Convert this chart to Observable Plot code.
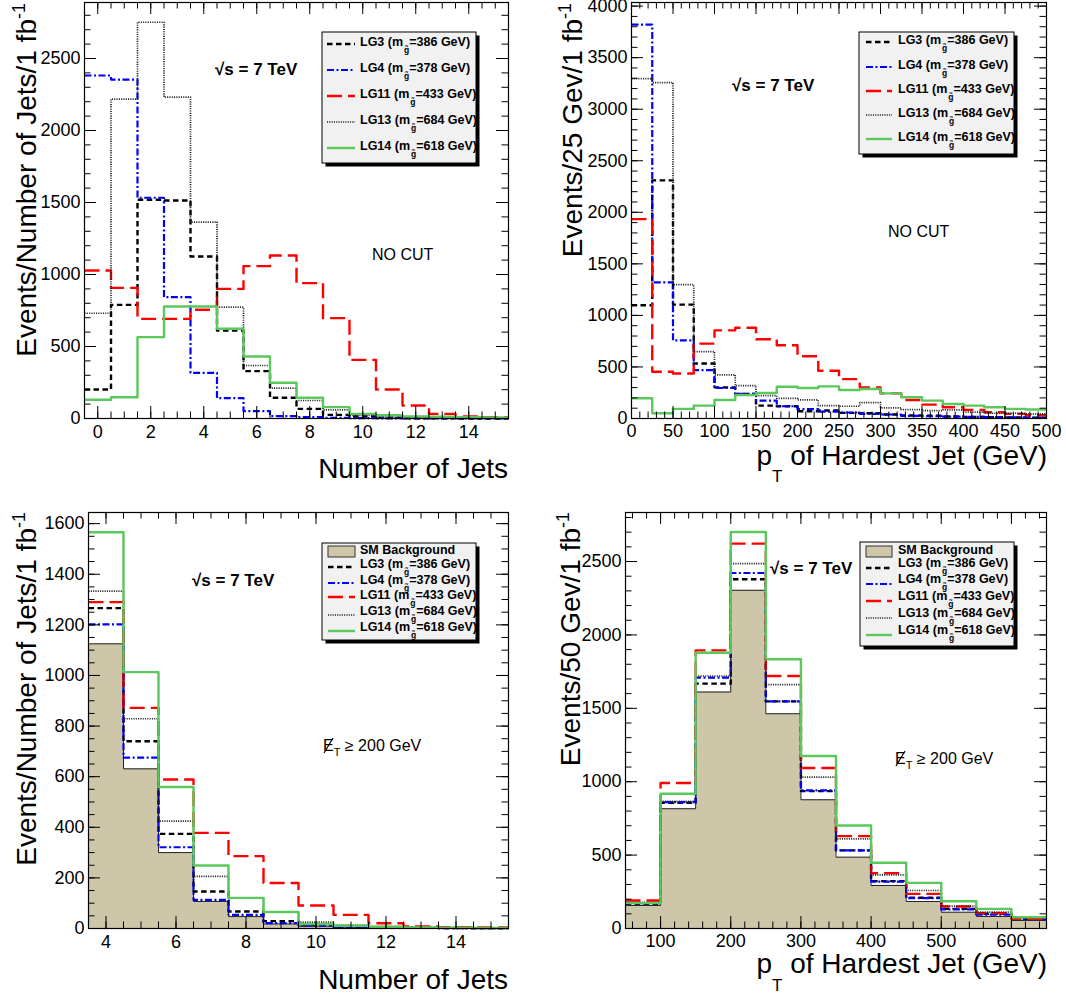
<!DOCTYPE html>
<html>
<head>
<meta charset="utf-8">
<script src="https://cdn.jsdelivr.net/npm/d3@7"></script>
<script src="https://cdn.jsdelivr.net/npm/@observablehq/plot@0.6"></script>
<style>
  body { margin: 0; background: #fff; }
  #root { position: relative; width: 1066px; height: 997px; overflow: hidden; background: #fff; }
  #root svg { position: absolute; overflow: visible; }
  #overlay { pointer-events: none; }
  #overlay text { white-space: pre; }
</style>
</head>
<body>
<div id="root"></div>
<script>
// ---------------- DATA ----------------
const seriesNames = ["LG3", "LG4", "LG11", "LG13", "LG14"];
const gluinoMasses = [386, 378, 433, 684, 618];

// Panel A: number of jets, no cut (bin centres 0..15)
const nJetsNoCut = [0, 1, 2, 3, 4, 5, 6, 7, 8, 9, 10, 11, 12, 13, 14, 15];
const njNoCut_LG3  = [201, 789, 1519, 1514, 1125, 611, 329, 144, 67, 25, 14, 5, 2, 1, 0, 0];
const njNoCut_LG4  = [2382, 2354, 1533, 843, 317, 141, 51, 16, 9, 4, 2, 1, 0, 0, 0, 0];
const njNoCut_LG11 = [1028, 907, 692, 692, 755, 900, 1058, 1132, 940, 697, 407, 201, 90, 32, 14, 9];
const njNoCut_LG13 = [731, 2218, 2752, 2232, 1364, 773, 368, 211, 125, 60, 21, 10, 8, 6, 5, 3];
const njNoCut_LG14 = [130, 148, 565, 778, 778, 623, 431, 248, 144, 79, 32, 23, 14, 12, 9, 7];

// Panel B: pT of hardest jet, no cut (bin low edges, 25 GeV bins)
const ptNoCut = [0, 25, 50, 75, 100, 125, 150, 175, 200, 225, 250, 275, 300, 325, 350, 375, 400, 425, 450, 475];
const ptNoCut_LG3  = [1099, 2310, 1105, 533, 302, 238, 125, 119, 71, 77, 55, 51, 39, 29, 26, 19, 16, 13, 10, 8];
const ptNoCut_LG4  = [3820, 1320, 758, 469, 296, 238, 173, 119, 90, 67, 58, 45, 39, 26, 22, 19, 16, 13, 10, 8];
const ptNoCut_LG11 = [1934, 453, 437, 726, 855, 880, 768, 710, 604, 463, 382, 302, 244, 180, 135, 109, 84, 61, 45, 32];
const ptNoCut_LG13 = [3297, 3258, 1298, 649, 424, 318, 222, 196, 180, 125, 119, 154, 103, 87, 77, 84, 61, 51, 51, 45];
const ptNoCut_LG14 = [196, 51, 93, 125, 180, 228, 247, 308, 296, 312, 276, 286, 244, 206, 173, 141, 125, 109, 93, 87];

// Panel C: number of jets, MET >= 200 GeV (bin centres 4..15)
const nJetsMet = [4, 5, 6, 7, 8, 9, 10, 11, 12, 13, 14, 15];
const njMet_SM   = [1125, 631, 300, 107, 47, 18, 9, 5, 3, 2, 1, 1];
const njMet_LG3  = [1266, 740, 374, 146, 67, 29, 14, 8, 5, 3, 2, 1];
const njMet_LG4  = [1202, 675, 321, 113, 54, 21, 11, 7, 4, 2, 1, 1];
const njMet_LG11 = [1290, 872, 589, 378, 286, 180, 91, 54, 21, 8, 5, 4];
const njMet_LG13 = [1333, 829, 424, 206, 121, 65, 25, 13, 8, 5, 3, 2];
const njMet_LG14 = [1566, 1013, 559, 249, 121, 65, 18, 11, 7, 4, 3, 2];

// Panel D: pT of hardest jet, MET >= 200 GeV (bin low edges, 50 GeV bins)
const ptMet = [50, 100, 150, 200, 250, 300, 350, 400, 450, 500, 550, 600];
const ptMet_SM   = [157, 816, 1611, 2304, 1463, 877, 486, 293, 184, 111, 82, 55];
const ptMet_LG3  = [168, 857, 1668, 2379, 1547, 936, 532, 323, 209, 134, 100, 66];
const ptMet_LG4  = [173, 861, 1709, 2422, 1547, 941, 532, 320, 207, 130, 95, 64];
const ptMet_LG11 = [191, 991, 1895, 2622, 1720, 1093, 629, 377, 236, 150, 105, 66];
const ptMet_LG13 = [179, 866, 1720, 2486, 1661, 1031, 611, 366, 259, 152, 111, 73];
const ptMet_LG14 = [173, 918, 1879, 2701, 1834, 1175, 702, 448, 311, 186, 134, 77];

// Tick labels
const ticksNJetsA = [0, 2, 4, 6, 8, 10, 12, 14];
const ticksNJetsC = [4, 6, 8, 10, 12, 14];
const ticksPtB = [0, 50, 100, 150, 200, 250, 300, 350, 400, 450, 500];
const ticksPtD = [100, 200, 300, 400, 500, 600];
const ticksYA = [0, 500, 1000, 1500, 2000, 2500];
const ticksYB = [0, 500, 1000, 1500, 2000, 2500, 3000, 3500, 4000];
const ticksYC = [0, 200, 400, 600, 800, 1000, 1200, 1400, 1600];
const ticksYD = [0, 500, 1000, 1500, 2000, 2500];

// ---------------- STYLE ----------------
const FONT = "'Liberation Sans', Arial, Helvetica, sans-serif";
const BG_FILL = "#cdc6a9";
const lineStyles = {
  LG3:  {stroke: "#000000", strokeWidth: 2.4, strokeDasharray: "5.5,3.5"},
  LG4:  {stroke: "#0000ff", strokeWidth: 2.2, strokeDasharray: "7,2.5,2,2.5"},
  LG11: {stroke: "#ff0000", strokeWidth: 2.4, strokeDasharray: "15,6"},
  LG13: {stroke: "#222222", strokeWidth: 1.7, strokeDasharray: "1.1,1.2"},
  LG14: {stroke: "#5bc85b", strokeWidth: 2.4}
};

function stepPoints(lows, width, vals) {
  const pts = lows.map((x, i) => ({x, y: vals[i]}));
  pts.push({x: lows[lows.length - 1] + width, y: vals[vals.length - 1]});
  return pts;
}

function makePanel(cfg) {
  const W = cfg.width - cfg.ml - cfg.mr;
  const H = cfg.height - cfg.mt - cfg.mb;
  const marks = [];
  if (cfg.bg) {
    const pts = stepPoints(cfg.lows, cfg.bw, cfg.bg);
    marks.push(Plot.areaY(pts, {x: "x", y: "y", curve: "step-after", fill: BG_FILL}));
    marks.push(Plot.lineY(pts, {x: "x", y: "y", curve: "step-after", stroke: "#222", strokeWidth: 1}));
  }
  cfg.series.forEach((vals, i) => {
    const key = seriesNames[i];
    marks.push(Plot.lineY(stepPoints(cfg.lows, cfg.bw, vals),
      {x: "x", y: "y", curve: "step-after", strokeLinecap: "butt", ...lineStyles[key]}));
  });
  const MAJ = 12, MIN = 6.5;
  const xt = (arr, len) => [
    Plot.tickX(arr, {x: d => d, insetTop: H - len, stroke: "#000", strokeWidth: 1}),
    Plot.tickX(arr, {x: d => d, insetBottom: H - len, stroke: "#000", strokeWidth: 1})
  ];
  const yt = (arr, len) => [
    Plot.tickY(arr, {y: d => d, insetRight: W - len, stroke: "#000", strokeWidth: 1}),
    Plot.tickY(arr, {y: d => d, insetLeft: W - len, stroke: "#000", strokeWidth: 1})
  ];
  marks.push(...xt(cfg.xMinor, MIN), ...xt(cfg.xMajor, MAJ), ...yt(cfg.yMinor, MIN), ...yt(cfg.yMajor, MAJ));
  marks.push(Plot.axisX({ticks: cfg.xMajor, anchor: "bottom", tickSize: 0, tickPadding: cfg.xPad,
    tickFormat: d => String(d), fontSize: 18, fill: "#000", label: null}));
  marks.push(Plot.axisY({ticks: cfg.yMajor, anchor: "left", tickSize: 0, tickPadding: 4,
    tickFormat: d => String(d), fontSize: 18, fill: "#000", label: null}));
  marks.push(Plot.frame({stroke: "#000", strokeWidth: 1.2}));

  const svg = Plot.plot({
    width: cfg.width, height: cfg.height,
    marginLeft: cfg.ml, marginRight: cfg.mr, marginTop: cfg.mt, marginBottom: cfg.mb,
    x: {domain: cfg.xDomain, label: null},
    y: {domain: cfg.yDomain, label: null},
    style: {fontFamily: FONT, fontSize: "18px", color: "#000", background: "transparent", overflow: "visible"},
    marks
  });
  svg.style.left = cfg.left + "px";
  svg.style.top = cfg.top + "px";
  return svg;
}

const root = document.getElementById("root");

root.appendChild(makePanel({
  left: 0, top: 0, width: 530, height: 500, ml: 84, mr: 22, mt: 2, mb: 82,
  xDomain: [-0.5, 15.5], yDomain: [0, 2889],
  lows: nJetsNoCut.map(c => c - 0.5), bw: 1,
  series: [njNoCut_LG3, njNoCut_LG4, njNoCut_LG11, njNoCut_LG13, njNoCut_LG14],
  xMajor: ticksNJetsA, xMinor: d3.range(0, 15.5, 0.5),
  yMajor: ticksYA, yMinor: d3.range(0, 2889, 100), xPad: 7
}));

root.appendChild(makePanel({
  left: 540, top: 0, width: 526, height: 500, ml: 91, mr: 20, mt: 2, mb: 82,
  xDomain: [0, 500], yDomain: [0, 4035],
  lows: ptNoCut, bw: 25,
  series: [ptNoCut_LG3, ptNoCut_LG4, ptNoCut_LG11, ptNoCut_LG13, ptNoCut_LG14],
  xMajor: ticksPtB, xMinor: d3.range(0, 501, 10),
  yMajor: ticksYB, yMinor: d3.range(0, 4001, 100), xPad: 6
}));

root.appendChild(makePanel({
  left: 0, top: 505, width: 530, height: 492, ml: 88, mr: 22, mt: 7, mb: 69,
  xDomain: [3.5, 15.5], yDomain: [0, 1644],
  lows: nJetsMet.map(c => c - 0.5), bw: 1, bg: njMet_SM,
  series: [njMet_LG3, njMet_LG4, njMet_LG11, njMet_LG13, njMet_LG14],
  xMajor: ticksNJetsC, xMinor: d3.range(4, 15.5, 0.5),
  yMajor: ticksYC, yMinor: d3.range(0, 1644, 50), xPad: 7
}));

root.appendChild(makePanel({
  left: 540, top: 505, width: 526, height: 492, ml: 85, mr: 20, mt: 7, mb: 69,
  xDomain: [50, 650], yDomain: [0, 2834],
  lows: ptMet, bw: 50, bg: ptMet_SM,
  series: [ptMet_LG3, ptMet_LG4, ptMet_LG11, ptMet_LG13, ptMet_LG14],
  xMajor: ticksPtD, xMinor: d3.range(60, 650, 20),
  yMajor: ticksYD, yMinor: d3.range(0, 2834, 100), xPad: 6
}));

// ---------------- OVERLAY TEXT / LEGENDS ----------------
const ov = d3.select(root).append("svg").attr("id", "overlay")
  .attr("width", 1066).attr("height", 997)
  .style("left", "0px").style("top", "0px")
  .attr("font-family", FONT);

function rich(x, y, parts, opts = {}) {
  const t = ov.append("text").attr("x", x).attr("y", y)
    .attr("fill", "#000")
    .attr("font-size", opts.size || 16)
    .attr("font-weight", opts.weight || "normal")
    .attr("text-anchor", opts.anchor || "start");
  if (opts.transform) t.attr("transform", opts.transform).attr("x", 0).attr("y", 0);
  for (const p of parts) {
    const s = t.append("tspan").text(p.t);
    if (p.size) s.attr("font-size", p.size);
    if (p.dy) s.attr("dy", p.dy);
    if (p.dx) s.attr("dx", p.dx);
  }
  return t;
}

// Y-axis titles
rich(0, 0, [{t: "Events/Number of Jets/1 fb"}, {t: "-1", size: 18, dy: -11}],
  {size: 28, anchor: "end", transform: "translate(36,3) rotate(-90)"});
rich(0, 0, [{t: "Events/25 Gev/1 fb"}, {t: "-1", size: 18, dy: -11}],
  {size: 28, anchor: "end", transform: "translate(582,3) rotate(-90)"});
rich(0, 0, [{t: "Events/Number of Jets/1 fb"}, {t: "-1", size: 18, dy: -11}],
  {size: 28, anchor: "end", transform: "translate(36,512) rotate(-90)"});
rich(0, 0, [{t: "Events/50 Gev/1 fb"}, {t: "-1", size: 18, dy: -11}],
  {size: 28, anchor: "end", transform: "translate(580,512) rotate(-90)"});

// X-axis titles
rich(508, 478, [{t: "Number of Jets"}], {size: 28, anchor: "end"});
rich(508, 989, [{t: "Number of Jets"}], {size: 28, anchor: "end"});
rich(1047, 465, [{t: "p"}, {t: "T", size: 17, dy: 17}, {t: " of Hardest Jet (GeV)", size: 28, dy: -17}], {size: 28, anchor: "end"});
rich(1047, 973, [{t: "p"}, {t: "T", size: 17, dy: 18}, {t: " of Hardest Jet (GeV)", size: 28, dy: -18}], {size: 28, anchor: "end"});

// Annotations
function sqrtS(x, y) {
  rich(x, y, [{t: "\u221As = 7 TeV"}], {size: 17, weight: "bold"});
}
sqrtS(215, 75); sqrtS(732, 91); sqrtS(192, 586); sqrtS(770, 574);
rich(372, 260, [{t: "NO CUT"}], {size: 16});
rich(888, 237, [{t: "NO CUT"}], {size: 16});
function metCut(x, y) {
  rich(x, y, [{t: "E"}, {t: "T", size: 11, dy: 5}, {t: " \u2265 200 GeV", size: 16, dy: -5}], {size: 16});
  // slash through the E (missing transverse energy)
  ov.append("line").attr("x1", x + 1).attr("y1", y + 2).attr("x2", x + 10).attr("y2", y - 13)
    .attr("stroke", "#000").attr("stroke-width", 1.2);
}
metCut(323, 751); metCut(895, 764);

// Legends
const LEG_FS = 12.5;
function legend(box, rows, textX, sx0, sx1, withBg) {
  ov.append("rect").attr("x", box.x + 3.5).attr("y", box.y + 3.5).attr("width", box.w).attr("height", box.h).attr("fill", "#000");
  ov.append("rect").attr("x", box.x).attr("y", box.y).attr("width", box.w).attr("height", box.h)
    .attr("fill", "#f1f1f1").attr("stroke", "#000").attr("stroke-width", 1);
  let r = 0;
  if (withBg) {
    const row = rows[r++];
    ov.append("rect").attr("x", sx0).attr("y", row.b - 8).attr("width", sx1 - sx0).attr("height", 11)
      .attr("fill", BG_FILL).attr("stroke", "#333").attr("stroke-width", 1);
    rich(textX, row.b, [{t: "SM Background"}], {size: LEG_FS, weight: "bold"});
  }
  seriesNames.forEach((name, i) => {
    const row = rows[r++];
    const st = lineStyles[name];
    ov.append("line").attr("x1", sx0).attr("x2", sx1).attr("y1", row.s).attr("y2", row.s)
      .attr("stroke", st.stroke).attr("stroke-width", st.strokeWidth)
      .attr("stroke-dasharray", st.strokeDasharray || null);
    rich(textX, row.b, [
      {t: name + " (m"},
      {t: "g\u0303", size: 8.5, dy: 7, dx: 1},
      {t: "=" + gluinoMasses[i] + " GeV)", size: LEG_FS, dy: -7}
    ], {size: LEG_FS, weight: "bold"});
  });
}

legend({x: 322, y: 32, w: 154, h: 131},
  [{b: 46, s: 44}, {b: 72, s: 70}, {b: 98, s: 96}, {b: 124, s: 122}, {b: 150, s: 148}],
  360, 327, 355, false);
legend({x: 859, y: 32, w: 155, h: 122},
  [{b: 44, s: 42}, {b: 69, s: 67}, {b: 93, s: 91}, {b: 117, s: 115}, {b: 141, s: 139}],
  898, 866, 892, false);
legend({x: 322, y: 543, w: 154, h: 97},
  [{b: 554}, {b: 568, s: 567}, {b: 584, s: 583}, {b: 599, s: 597}, {b: 615, s: 615}, {b: 631, s: 631}],
  360, 328, 355, true);
legend({x: 860, y: 542, w: 154, h: 104},
  [{b: 554}, {b: 567, s: 568}, {b: 583, s: 584}, {b: 600, s: 601}, {b: 617, s: 618}, {b: 634, s: 635}],
  898, 866, 892, true);
</script>
</body>
</html>
